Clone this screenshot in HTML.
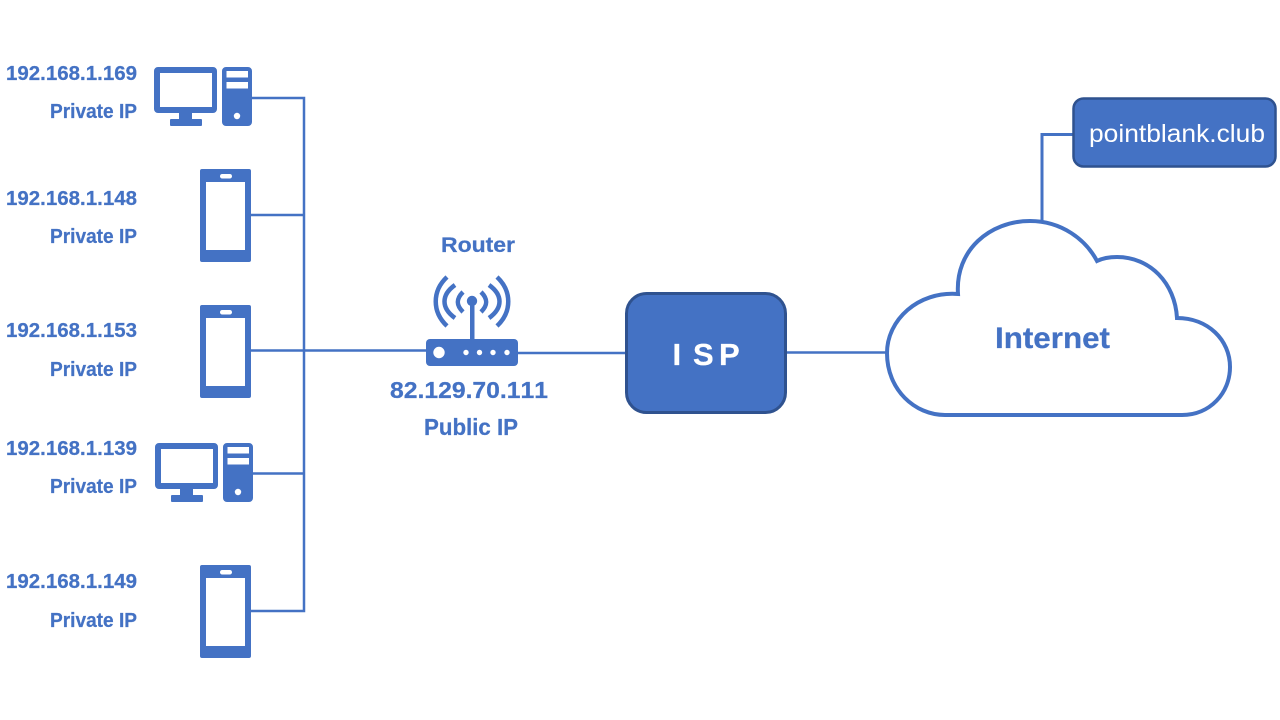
<!DOCTYPE html>
<html>
<head>
<meta charset="utf-8">
<style>
html,body{margin:0;padding:0;background:#fff}
svg{display:block}
text{font-family:"Liberation Sans",sans-serif;font-weight:700;fill:#4472c4;font-kerning:none;stroke:#4472c4;stroke-width:.25px}
</style>
</head>
<body>
<svg width="1280" height="720" viewBox="0 0 1280 720" xmlns="http://www.w3.org/2000/svg">
<defs>
<g id="pc">
<path fill-rule="evenodd" fill="#4472c4" d="M158 67h55a4 4 0 0 1 4 4v38a4 4 0 0 1-4 4h-55a4 4 0 0 1-4-4V71a4 4 0 0 1 4-4zM160 73v34h52V73z"/>
<rect x="179" y="113" width="13" height="7" fill="#4472c4"/>
<rect x="170" y="119" width="32" height="7" rx="1" fill="#4472c4"/>
<path fill-rule="evenodd" fill="#4472c4" d="M226 67h22a4 4 0 0 1 4 4v51a4 4 0 0 1-4 4h-22a4 4 0 0 1-4-4V71a4 4 0 0 1 4-4zM226.500 71v6.500h21.500V71zM226.500 82v6.500h21.500V82z"/>
<circle cx="237" cy="116" r="3.200" fill="#fff"/>
</g>
<g id="phone">
<path fill-rule="evenodd" fill="#4472c4" d="M202 169h47a2 2 0 0 1 2 2v89a2 2 0 0 1-2 2h-47a2 2 0 0 1-2-2v-89a2 2 0 0 1 2-2zM206 182v68h39v-68z"/>
<rect x="220" y="174" width="12" height="4.500" rx="2.200" fill="#fff"/>
</g>
</defs>

<g fill="none" stroke="#4472c4" stroke-width="2.500">
<path d="M252 98H304V611H251"/>
<path d="M251 215H304"/>
<path d="M251 350.500H426"/>
<path d="M252 473.500H304"/>
<path d="M518 353H626"/>
<path d="M786 352.500H887"/>
<path d="M1042 221V134.500H1073" stroke-width="3"/>
</g>

<use href="#pc"/>
<use href="#pc" x="1" y="376"/>
<use href="#phone"/>
<use href="#phone" y="136"/>
<use href="#phone" y="396"/>

<!-- Router -->
<rect x="426" y="339" width="92" height="27" rx="4" fill="#4472c4"/>
<circle cx="439" cy="352.500" r="5.700" fill="#fff"/>
<circle cx="466" cy="352.500" r="2.700" fill="#fff"/>
<circle cx="479.500" cy="352.500" r="2.700" fill="#fff"/>
<circle cx="493" cy="352.500" r="2.700" fill="#fff"/>
<circle cx="507" cy="352.500" r="2.700" fill="#fff"/>
<rect x="470" y="300" width="4.500" height="40" fill="#4472c4"/>
<circle cx="472" cy="301" r="5.200" fill="#4472c4"/>
<g fill="none" stroke="#4472c4" stroke-width="4.500">
<path d="M463 292C456 299 456 305 463 312"/>
<path d="M481 292C488 299 488 305 481 312"/>
<path d="M455 285C441 295 441 308 455 318"/>
<path d="M489 285C503 295 503 308 489 318"/>
<path d="M447 277C432 291 432 312 447 326"/>
<path d="M497 277C512 291 512 312 497 326"/>
</g>

<!-- ISP -->
<rect x="626.500" y="293.500" width="159" height="119" rx="20" fill="#4472c4" stroke="#2f528f" stroke-width="3"/>
<g font-size="31">
<text x="672.500" y="365" style="fill:#fff;stroke:#fff">I</text>
<text x="693" y="365" style="fill:#fff;stroke:#fff">S</text>
<text x="719" y="365" style="fill:#fff;stroke:#fff">P</text>
</g>

<!-- Cloud -->
<path fill="#fff" stroke="#4472c4" stroke-width="4" stroke-linejoin="miter" d="M945 415H1182C1210 415 1230 393 1230 367C1230 340 1208 318 1177 318C1175 283 1150 257 1117 257C1110 257 1103 258 1097 261C1086 240 1062 221 1030 221C990 221 955 250 958 294C918 291 887 320 887 353C887 390 915 415 945 415Z"/>
<text x="995" y="348" font-size="30" textLength="115" lengthAdjust="spacingAndGlyphs">Internet</text>

<!-- Domain box -->
<rect x="1073.500" y="98.500" width="202" height="68" rx="10" fill="#4472c4" stroke="#2f528f" stroke-width="2.500"/>
<text x="1089" y="142" font-size="25" style="fill:#fff;stroke:none;font-weight:400" textLength="176" lengthAdjust="spacingAndGlyphs">pointblank.club</text>

<!-- Router labels -->
<text x="441" y="252" font-size="21" textLength="74" lengthAdjust="spacingAndGlyphs">Router</text>
<text x="390" y="398" font-size="23" textLength="158" lengthAdjust="spacingAndGlyphs">82.129.70.111</text>
<text x="424" y="435" font-size="23" textLength="94" lengthAdjust="spacingAndGlyphs">Public IP</text>

<!-- Device labels -->
<g font-size="20.500">
<text x="6" y="80" textLength="131" lengthAdjust="spacingAndGlyphs">192.168.1.169</text>
<text x="50" y="118" textLength="87" lengthAdjust="spacingAndGlyphs">Private IP</text>
<text x="6" y="205" textLength="131" lengthAdjust="spacingAndGlyphs">192.168.1.148</text>
<text x="50" y="243" textLength="87" lengthAdjust="spacingAndGlyphs">Private IP</text>
<text x="6" y="337" textLength="131" lengthAdjust="spacingAndGlyphs">192.168.1.153</text>
<text x="50" y="376" textLength="87" lengthAdjust="spacingAndGlyphs">Private IP</text>
<text x="6" y="455" textLength="131" lengthAdjust="spacingAndGlyphs">192.168.1.139</text>
<text x="50" y="493" textLength="87" lengthAdjust="spacingAndGlyphs">Private IP</text>
<text x="6" y="588" textLength="131" lengthAdjust="spacingAndGlyphs">192.168.1.149</text>
<text x="50" y="627" textLength="87" lengthAdjust="spacingAndGlyphs">Private IP</text>
</g>
</svg>
</body>
</html>
